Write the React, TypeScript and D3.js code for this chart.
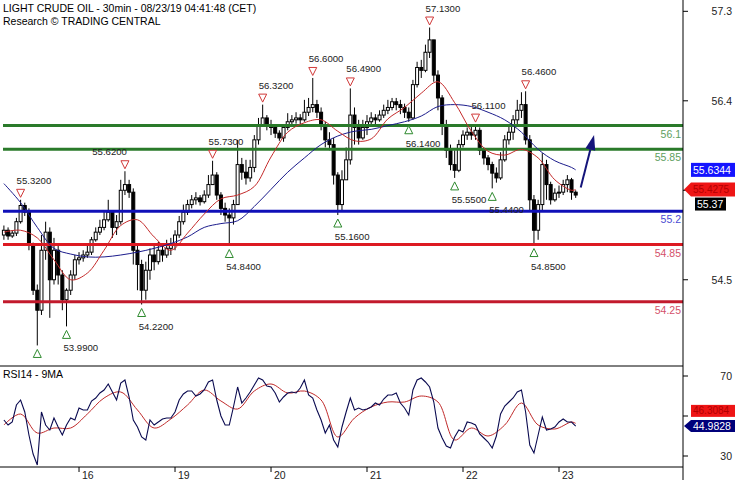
import React from "react";
import * as d3 from "d3";

// ---------- DATA ----------
const title1 = "LIGHT CRUDE OIL - 30min - 08/23/19 04:41:48 (CET)";
const title2 = "Research © TRADING CENTRAL";
const rsiTitle = "RSI14 - 9MA";

const dayLabels = ["16", "19", "20", "21", "22", "23"];
const dayStartBars = [18, 41, 64, 87, 110, 133];

const firstOpen = 54.95;
const closes = [
  55.00, 54.94, 54.97, 55.09, 55.26, 55.19, 54.85, 54.37, 54.16, 54.79,
  54.98, 54.48, 54.79, 54.53, 54.27, 54.37, 54.53, 54.69, 54.71, 54.74,
  54.77, 54.90, 54.98, 55.03, 55.11, 55.19, 55.03, 55.09, 55.42, 55.48,
  55.40, 54.79, 54.64, 54.37, 54.58, 54.74, 54.67, 54.79, 54.74, 54.81,
  54.85, 54.95, 55.09, 55.19, 55.27, 55.32, 55.34, 55.30, 55.37, 55.48,
  55.58, 55.37, 55.23, 55.16, 55.13, 55.27, 55.69, 55.61, 55.55, 55.66,
  55.95, 56.11, 56.18, 56.11, 56.08, 56.02, 55.97, 56.08, 56.14, 56.16,
  56.18, 56.16, 56.24, 56.29, 56.32, 56.24, 56.11, 55.95, 55.90, 55.58,
  55.27, 55.53, 55.74, 56.21, 56.08, 55.97, 56.08, 56.14, 56.18, 56.16,
  56.21, 56.26, 56.29, 56.35, 56.32, 56.29, 56.24, 56.18, 56.53, 56.71,
  56.68, 56.87, 57.00, 56.63, 56.39, 56.11, 55.84, 55.69, 55.63, 55.90,
  56.00, 56.03, 56.00, 56.05, 55.84, 55.76, 55.69, 55.60, 55.55, 55.74,
  55.95, 56.03, 56.16, 56.26, 56.32, 55.95, 55.32, 55.00, 55.27, 55.69,
  55.48, 55.32, 55.39, 55.40, 55.48, 55.53, 55.40, 55.37,
];
const highs = [
  55.05, 55.03, 55.00, 55.13, 55.32, 55.29, 55.23, 54.87, 54.43, 54.95,
  55.09, 55.03, 54.92, 54.85, 54.58, 54.39, 54.58, 54.74, 54.77, 54.79,
  54.85, 54.93, 55.03, 55.11, 55.21, 55.32, 55.21, 55.16, 55.53, 55.62,
  55.53, 55.44, 54.85, 54.69, 54.67, 54.81, 54.85, 54.88, 54.85, 54.90,
  54.92, 55.00, 55.15, 55.27, 55.32, 55.37, 55.40, 55.37, 55.42, 55.58,
  55.73, 55.61, 55.40, 55.29, 55.23, 55.32, 55.95, 55.76, 55.74, 55.74,
  56.00, 56.18, 56.32, 56.21, 56.16, 56.11, 56.05, 56.11, 56.23, 56.21,
  56.24, 56.22, 56.37, 56.39, 56.60, 56.37, 56.29, 56.14, 56.03, 55.97,
  55.61, 55.63, 55.87, 56.49, 56.29, 56.16, 56.16, 56.21, 56.24, 56.22,
  56.26, 56.32, 56.37, 56.39, 56.39, 56.37, 56.33, 56.29, 56.58, 56.77,
  56.79, 56.95, 57.13, 57.00, 56.68, 56.42, 56.16, 55.90, 55.84, 55.95,
  56.05, 56.08, 56.11, 56.11, 56.08, 55.87, 55.79, 55.72, 55.66, 55.82,
  56.00, 56.11, 56.21, 56.37, 56.45, 56.46, 56.00, 55.37, 55.32, 55.81,
  55.74, 55.51, 55.44, 55.47, 55.53, 55.58, 55.55, 55.42,
];
const lows = [
  54.90, 54.90, 54.92, 54.94, 55.07, 55.15, 54.79, 54.32, 53.79, 54.11,
  54.69, 54.08, 54.43, 54.43, 54.16, 53.99, 54.32, 54.48, 54.64, 54.67,
  54.71, 54.74, 54.88, 54.95, 55.00, 55.09, 54.92, 54.95, 55.06, 55.37,
  55.34, 54.64, 54.37, 54.22, 54.27, 54.48, 54.58, 54.64, 54.67, 54.71,
  54.74, 54.79, 54.92, 55.06, 55.16, 55.23, 55.27, 55.26, 55.28, 55.34,
  55.48, 55.32, 55.16, 55.09, 54.84, 55.06, 55.27, 55.53, 55.48, 55.51,
  55.61, 55.90, 56.10, 56.05, 56.00, 55.97, 55.94, 55.93, 56.05, 56.10,
  56.12, 56.10, 56.14, 56.20, 56.24, 56.18, 56.05, 55.87, 55.84, 55.48,
  55.16, 55.21, 55.53, 55.69, 55.90, 55.90, 55.95, 56.00, 56.11, 56.11,
  56.14, 56.18, 56.22, 56.26, 56.26, 56.22, 56.18, 56.14, 56.16, 56.50,
  56.60, 56.66, 56.81, 56.56, 56.26, 56.00, 55.76, 55.63, 55.55, 55.61,
  55.87, 55.95, 55.95, 55.95, 55.79, 55.69, 55.63, 55.44, 55.50, 55.53,
  55.72, 55.90, 55.95, 56.11, 56.18, 55.90, 55.21, 54.85, 54.90, 55.21,
  55.32, 55.27, 55.30, 55.34, 55.37, 55.40, 55.32, 55.34,
];

// moving averages sampled every 4 bars (+ last bar)
const redMA = [
  54.98, 55.00, 54.92, 54.69, 54.48, 54.55, 54.79, 55.05, 55.11, 54.93,
  54.79, 54.97, 55.17, 55.33, 55.37, 55.46, 55.77, 56.03, 56.13, 56.16,
  56.04, 55.94, 55.96, 56.17, 56.29, 56.44, 56.56, 56.34, 56.04, 55.83,
  55.79, 55.85, 55.76, 55.53, 55.42, 55.4275,
];
const blueMA = [
  55.49, 55.29, 55.03, 54.81, 54.75, 54.72, 54.72, 54.74, 54.77, 54.81,
  54.86, 54.93, 55.03, 55.07, 55.10, 55.25, 55.43, 55.61, 55.76, 55.90,
  55.99, 56.04, 56.06, 56.10, 56.14, 56.20, 56.30, 56.32, 56.30, 56.24,
  56.16, 56.03, 55.85, 55.73, 55.66, 55.6344,
];

const rsi = [
  48.0, 45.5, 47.0, 55.5, 58.0, 52.0, 40.5, 31.0, 25.5, 52.0,
  45.5, 43.0, 49.0, 44.5, 40.5, 45.5, 49.0, 48.0, 54.0, 53.0,
  53.0, 57.5, 59.0, 61.5, 63.0, 66.0, 62.0, 58.0, 66.5, 68.0,
  59.5, 48.0, 44.5, 39.5, 38.0, 48.0, 45.5, 47.0, 48.5, 49.0,
  49.0, 52.0, 58.0, 61.0, 62.5, 62.5, 60.0, 61.0, 63.0, 67.0,
  68.0, 58.0, 50.0, 45.5, 45.5, 54.5, 64.5, 56.5, 59.0, 62.0,
  65.5, 69.0, 68.0, 65.0, 64.5, 61.5, 57.0, 59.5, 61.5, 62.0,
  61.5, 64.0, 68.0, 60.5, 59.0, 53.0, 48.0, 41.5, 45.5, 38.0,
  34.5, 44.5, 52.0, 59.0, 53.0, 54.0, 53.0, 53.5, 54.5, 56.5,
  55.5, 58.5, 60.5, 60.5, 61.5, 56.5, 54.0, 50.5, 63.0, 68.0,
  69.0, 67.0, 64.5, 57.0, 44.0, 39.0, 35.0, 34.0, 39.5, 43.0,
  42.0, 47.0, 46.5, 45.5, 41.0, 39.0, 37.0, 34.0, 40.0, 51.0,
  55.0, 57.0, 59.0, 62.0, 63.0, 52.0, 35.5, 31.5, 40.5, 49.5,
  43.0, 43.5, 44.5, 47.0, 48.5, 47.0, 47.0, 44.9828,
];
const rsiMA = [
  45.5, 51.0, 41.5, 44.0, 44.0, 51.0, 59.0, 62.0, 53.0, 44.0,
  48.5, 55.5, 63.0, 57.5, 53.5, 62.5, 66.0, 61.5, 62.5, 58.0,
  39.5, 49.0, 54.5, 57.0, 57.0, 60.0, 57.0, 38.0, 44.0, 40.0,
  45.5, 56.5, 45.5, 43.5, 47.0, 46.3084,
];

const peakBars = [4, 29, 50, 62, 74, 83, 102, 113, 125];
const peakValues = [55.32, 55.62, 55.73, 56.32, 56.6, 56.49, 57.13, 56.11, 56.46];
const peakLabelLeft = [false, true, false, false, false, false, false, false, false];
const troughBars = [8, 15, 33, 54, 80, 97, 108, 117, 127];
const troughValues = [53.79, 53.99, 54.22, 54.84, 55.16, 56.14, 55.55, 55.44, 54.85];
const troughLabeled = [false, true, true, true, true, true, true, true, true];

const levelValues = [56.1, 55.85, 55.2, 54.85, 54.25];
const levelLabels = ["56.1", "55.85", "55.2", "54.85", "54.25"];
const levelColors = ["#2a7a2a", "#2a7a2a", "#1010b8", "#dd1a22", "#c21a2c"];
const levelTextColors = ["#5e9e5e", "#5e9e5e", "#4a4ad2", "#d4506a", "#d4506a"];

const priceTicks = [57.3, 56.36, 55.42, 54.48];
const priceTickLabelShown = [true, true, false, true]; // 55.4 is covered by the value boxes
const rsiTicks = [70, 50, 30];
const rsiTickLabelShown = [true, false, true]; // 50 is covered by the value boxes

const arrowStart = { bar: 138.2, price: 55.45 };
const arrowEnd = { bar: 141.4, price: 56.0 };

const FONT = "'Liberation Sans', Arial, sans-serif";

export default function App() {
  const axisX = 683;
  const n = closes.length;
  const x = d3.scaleLinear().domain([0, n - 1]).range([3.9, 575.7]);
  const y = d3.scaleLinear().domain([53.574, 57.419]).range([366, 0]);
  const yr = d3.scaleLinear().domain([24.5, 75]).range([467, 366]);

  const maBars = d3.range(0, n - 1, 4).concat([n - 1]);

  const maLine = d3
    .line<number>()
    .x((_, i) => x(maBars[i]))
    .y((d) => y(d))
    .curve(d3.curveCatmullRom.alpha(0.5));
  const rsiLine = d3
    .line<number>()
    .x((_, i) => x(i))
    .y((d) => yr(d));
  const rsiMaLine = d3
    .line<number>()
    .x((_, i) => x(maBars[i]))
    .y((d) => yr(d))
    .curve(d3.curveCatmullRom.alpha(0.5));

  const lastClose = closes[n - 1];
  const lastRed = redMA[redMA.length - 1];
  const lastBlue = blueMA[blueMA.length - 1];
  const lastRsi = rsi[n - 1];
  const lastRsiMa = rsiMA[rsiMA.length - 1];

  // arrow geometry
  const ax1 = x(arrowStart.bar), ay1 = y(arrowStart.price);
  const ax2 = x(arrowEnd.bar), ay2 = y(arrowEnd.price);
  const ang = Math.atan2(ay2 - ay1, ax2 - ax1);
  const headLen = 15, headW = 5;
  const bx = ax2 - headLen * Math.cos(ang), by = ay2 - headLen * Math.sin(ang);
  const px = -Math.sin(ang), py = Math.cos(ang);

  const yBlue = y(lastBlue);
  const yRed = y(lastRed);
  const yClose = y(lastClose) + 9;
  const yRsiMa = yr(lastRsiMa) - 12.5;
  const yRsi = yr(lastRsi);

  return (
    <svg
      width={735}
      height={480}
      style={{ position: "fixed", left: 0, top: 0, display: "block" }}
      fontFamily={FONT}
    >
      <rect x={0} y={0} width={735} height={480} fill="#ffffff" />

      {/* titles */}
      <text x={3} y={12} fontSize={10.5} fill="#000">{title1}</text>
      <text x={3} y={25} fontSize={10.5} fill="#000">{title2}</text>

      {/* candles */}
      <g>
        {closes.map((c, i) => {
          const o = i === 0 ? firstOpen : closes[i - 1];
          const cx = x(i);
          const top = y(Math.max(o, c));
          const bot = y(Math.min(o, c));
          const up = c >= o;
          return (
            <g key={i}>
              <line x1={cx} x2={cx} y1={y(highs[i])} y2={y(lows[i])} stroke="#000" strokeWidth={1} />
              <rect
                x={cx - 1.5}
                y={top}
                width={3}
                height={Math.max(1, bot - top)}
                fill={up ? "#fff" : "#000"}
                stroke="#000"
                strokeWidth={1}
              />
            </g>
          );
        })}
      </g>

      {/* levels */}
      {levelValues.map((v, i) => (
        <g key={"lv" + i}>
          <line x1={3} x2={axisX} y1={y(v)} y2={y(v)} stroke={levelColors[i]} strokeWidth={3} />
          <text x={681} y={y(v) + 12} fontSize={10.5} textAnchor="end" fill={levelTextColors[i]}>
            {levelLabels[i]}
          </text>
        </g>
      ))}

      {/* moving averages */}
      <path d={maLine(blueMA) || ""} fill="none" stroke="#1c1c8c" strokeWidth={1} />
      <path d={maLine(redMA) || ""} fill="none" stroke="#c42a2a" strokeWidth={1} />

      {/* peaks */}
      {peakBars.map((b, i) => {
        const cx = x(b);
        const hy = y(peakValues[i]);
        const t = hy - 10.5;
        const left = peakLabelLeft[i];
        return (
          <g key={"pk" + i}>
            <path
              d={`M${cx - 4},${t}L${cx + 4},${t}L${cx},${t + 8}Z`}
              fill="#fff"
              stroke="#d03838"
              strokeWidth={1}
            />
            <text
              x={left ? cx + 2 : cx - 4}
              y={hy - 16}
              fontSize={9.6}
              fill="#222"
              textAnchor={left ? "end" : "start"}
            >
              {peakValues[i].toFixed(4)}
            </text>
          </g>
        );
      })}

      {/* troughs */}
      {troughBars.map((b, i) => {
        const cx = x(b);
        const ly = y(troughValues[i]);
        const t = ly + 4;
        return (
          <g key={"tr" + i}>
            <path
              d={`M${cx},${t}L${cx + 4},${t + 8}L${cx - 4},${t + 8}Z`}
              fill="#fff"
              stroke="#2e8a2e"
              strokeWidth={1}
            />
            {troughLabeled[i] && (
              <text x={cx - 3} y={ly + 25} fontSize={9.6} fill="#222">
                {troughValues[i].toFixed(4)}
              </text>
            )}
          </g>
        );
      })}

      {/* forecast arrow */}
      <line x1={ax1} y1={ay1} x2={bx} y2={by} stroke="#14147a" strokeWidth={2} />
      <path
        d={`M${ax2},${ay2}L${bx + px * headW},${by + py * headW}L${bx - px * headW},${by - py * headW}Z`}
        fill="#14147a"
      />

      {/* RSI panel */}
      <line x1={0} x2={axisX} y1={366} y2={366} stroke="#000" strokeWidth={1} />
      <line x1={0} x2={axisX} y1={467} y2={467} stroke="#000" strokeWidth={1} />
      <text x={3} y={378} fontSize={10.5} fill="#000">{rsiTitle}</text>
      <path d={rsiMaLine(rsiMA) || ""} fill="none" stroke="#c02a2a" strokeWidth={1} />
      <path d={rsiLine(rsi) || ""} fill="none" stroke="#0a0a50" strokeWidth={1.1} />

      {/* date axis */}
      {dayStartBars.map((b, i) => (
        <g key={"d" + i}>
          <line x1={x(b)} x2={x(b)} y1={467} y2={472} stroke="#000" strokeWidth={1} />
          <text x={x(b) + 3} y={479} fontSize={10.5} fill="#222">{dayLabels[i]}</text>
        </g>
      ))}

      {/* right axis */}
      <line x1={axisX} x2={axisX} y1={0} y2={480} stroke="#000" strokeWidth={1} />
      {priceTicks.map((t, i) => (
        <g key={"pt" + i}>
          <line x1={axisX} x2={axisX + 5} y1={y(t)} y2={y(t)} stroke="#000" />
          {priceTickLabelShown[i] && (
            <text x={732} y={y(t) + 4} fontSize={10.5} textAnchor="end" fill="#222">
              {t.toFixed(1)}
            </text>
          )}
        </g>
      ))}
      {rsiTicks.map((t, i) => (
        <g key={"rt" + i}>
          <line x1={axisX} x2={axisX + 5} y1={yr(t)} y2={yr(t)} stroke="#000" />
          {rsiTickLabelShown[i] && (
            <text x={732} y={yr(t) + 4} fontSize={10.5} textAnchor="end" fill="#222">
              {t}
            </text>
          )}
        </g>
      ))}

      {/* value boxes main */}
      <rect x={691} y={yBlue - 7} width={44} height={14} fill="#1414ff" />
      <text x={693} y={yBlue + 4} fontSize={10.5} fill="#fff">{lastBlue.toFixed(4)}</text>

      <path
        d={`M${axisX + 1},${yRed}L${691},${yRed - 7}L735,${yRed - 7}L735,${yRed + 7}L${691},${yRed + 7}Z`}
        fill="#ee1515"
      />
      <text x={693} y={yRed + 3.5} fontSize={10} fill="#b30000">{lastRed.toFixed(4)}</text>

      <rect x={695} y={yClose - 6.5} width={31} height={13} fill="#000" />
      <text x={697} y={yClose + 4} fontSize={10.5} fill="#fff">{lastClose.toFixed(2)}</text>

      {/* value boxes RSI */}
      <rect x={691} y={yRsiMa - 6} width={44} height={12} fill="#ee1515" />
      <text x={693} y={yRsiMa + 3.5} fontSize={10} fill="#b30000">{lastRsiMa.toFixed(4)}</text>

      <path
        d={`M${axisX + 1},${yRsi}L${691},${yRsi - 6}L735,${yRsi - 6}L735,${yRsi + 6}L${691},${yRsi + 6}Z`}
        fill="#00007a"
      />
      <text x={693} y={yRsi + 4} fontSize={10.5} fill="#fff">{lastRsi.toFixed(4)}</text>
    </svg>
  );
}
